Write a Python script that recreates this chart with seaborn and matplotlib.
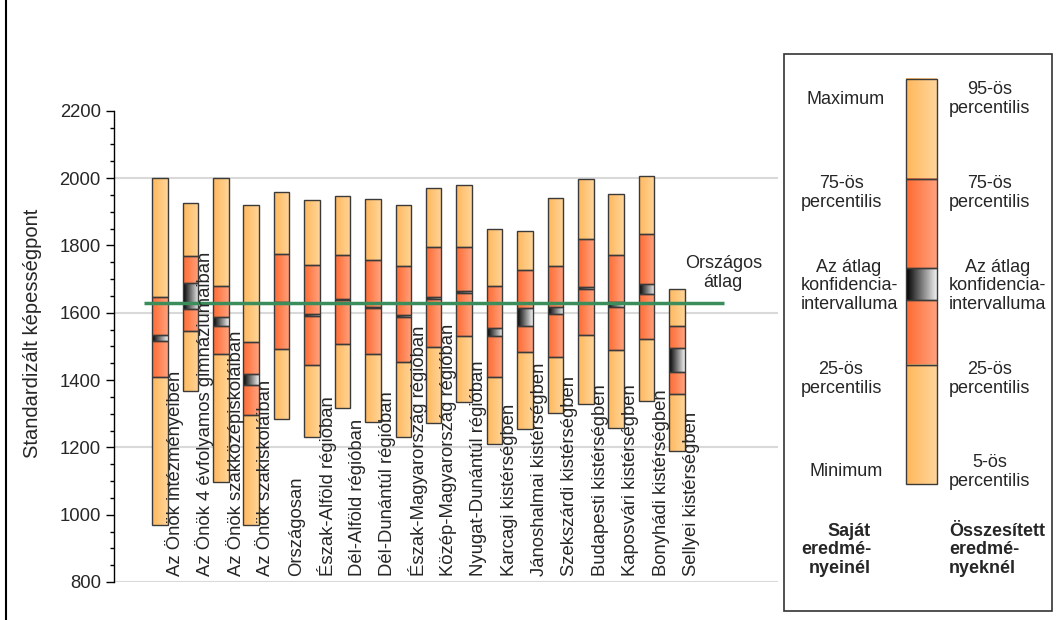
import numpy as np
import pandas as pd
import seaborn as sns
import matplotlib.pyplot as plt
from matplotlib.colors import LinearSegmentedColormap
from matplotlib.patches import Rectangle

# Chart values
categories = [
    "Az Önök intézményeiben", "Az Önök 4 évfolyamos gimnáziumaiban",
    "Az Önök szakközépiskoláiban", "Az Önök szakiskoláiban", "Országosan",
    "Észak-Alföld régióban", "Dél-Alföld régióban", "Dél-Dunántúl régióban",
    "Észak-Magyarország régióban", "Közép-Magyarország régióban",
    "Nyugat-Dunántúl régióban", "Karcagi kistérségben",
    "Jánoshalmai kistérségben", "Szekszárdi kistérségben",
    "Budapesti kistérségben", "Kaposvári kistérségben",
    "Bonyhádi kistérségben", "Sellyei kistérségben",
]
minimum = [970, 1368, 1098, 970, 1284, 1231, 1316, 1275, 1231, 1271, 1336, 1211, 1255, 1302, 1328, 1259, 1338, 1188]
p25 = [1409, 1546, 1478, 1297, 1493, 1445, 1506, 1478, 1453, 1498, 1531, 1409, 1483, 1469, 1535, 1490, 1523, 1358]
ci_low = [1517, 1611, 1562, 1384, 1628, 1591, 1637, 1613, 1588, 1641, 1659, 1530, 1562, 1595, 1671, 1617, 1657, 1424]
ci_high = [1533, 1688, 1587, 1419, 1632, 1595, 1641, 1617, 1593, 1647, 1665, 1556, 1613, 1617, 1676, 1633, 1686, 1495]
p75 = [1647, 1770, 1680, 1514, 1776, 1742, 1772, 1758, 1740, 1795, 1795, 1680, 1726, 1740, 1819, 1772, 1835, 1562]
maximum = [2000, 1926, 2000, 1920, 1960, 1936, 1948, 1938, 1921, 1972, 1981, 1849, 1844, 1942, 1997, 1952, 2007, 1671]
national_mean = 1630

# gradient colours (left -> right) for each kind of segment
grad_colors = {
    "light": ("#FFB85C", "#FFD59A"),
    "dark": ("#FF6B32", "#FFA27E"),
    "ci": ("#000000", "#F0F0F0"),
}

sns.set_theme(style="white")
plt.rcParams["font.family"] = ["Liberation Sans", "DejaVu Sans"]

fig = plt.figure(figsize=(10.63, 6.2), dpi=100)
ax = fig.add_axes([0.1072, 0.0613, 0.625, 0.760])

# segments stacked from bottom to top
segments = [
    ("light", minimum, p25),
    ("dark", p25, ci_low),
    ("ci", ci_low, ci_high),
    ("dark", ci_high, p75),
    ("light", p75, maximum),
]

grad = np.linspace(0, 1, 64).reshape(1, -1)
for kind, lo, hi in segments:
    df = pd.DataFrame({"cat": categories, "bottom": lo,
                       "height": np.array(hi) - np.array(lo)})
    n_before = len(ax.patches)
    sns.barplot(data=df, x="cat", y="height", bottom=df["bottom"].values,
                order=categories, errorbar=None, fill=False, color="#3a3a3a",
                linewidth=1.0, width=0.51, ax=ax, zorder=3)
    cmap = LinearSegmentedColormap.from_list(kind, grad_colors[kind])
    for p in ax.patches[n_before:]:
        x0, y0 = p.get_x(), p.get_y()
        im = ax.imshow(grad, cmap=cmap, aspect="auto", interpolation="bilinear",
                       extent=[x0, x0 + p.get_width(), y0, y0 + p.get_height()],
                       zorder=2)
        im.set_clip_path(p)

# grid lines
for g in [800, 1200, 1600, 2000]:
    ax.axhline(g, color="#d9d9d9", lw=1.5, zorder=0)

# national average
ax.hlines(national_mean, -0.53, 18.55, color="#3b8d5c", lw=2.5, zorder=4)
ax.text(18.52, 1717, "Országos\nátlag", ha="center", va="center",
        fontsize=13, linespacing=1.15)

# category labels
for i, cat in enumerate(categories):
    ax.text(i + 0.48, 817, cat, rotation=90, ha="center", va="bottom",
            fontsize=13.3, zorder=5)

ax.set_xlim(-1.513, 20.33)
ax.set_ylim(800, 2200)
ax.set_xticks([])
ax.set_xlabel("")
ax.set_yticks(np.arange(800, 2201, 200))
ax.set_yticks(np.arange(800, 2201, 50), minor=True)
ax.tick_params(axis="y", which="major", length=6, width=1, color="black",
               labelsize=13.3, left=True, direction="out")
ax.tick_params(axis="y", which="minor", length=3, width=1, color="black",
               left=True, direction="out")
for s in ["top", "right", "bottom"]:
    ax.spines[s].set_visible(False)
ax.spines["left"].set_color("black")
ax.spines["left"].set_linewidth(1)
ax.set_ylabel("Standardizált képességpont", fontsize=14.5)
ax.yaxis.set_label_coords(-0.108, 0.528)
ax.patch.set_alpha(0)

# legend panel drawn in pixel coordinates
lg = fig.add_axes([0, 0, 1, 1])
lg.set_axis_off()
lg.patch.set_alpha(0)
lg.plot([6, 6], [0, 620], color="black", lw=1.5)
lg.add_patch(Rectangle((784, 54), 268, 557, fill=False, ec="#333333", lw=1.2))

legend_bar = [("light", 78.5, 178.8), ("dark", 178.8, 268.3), ("ci", 268.3, 300.1),
              ("dark", 300.1, 364.9), ("light", 364.9, 484)]
for kind, top, bot in legend_bar:
    cmap = LinearSegmentedColormap.from_list(kind, grad_colors[kind])
    lg.imshow(grad, cmap=cmap, aspect="auto", interpolation="bilinear",
              extent=[906, 937, bot, top], zorder=2)
    lg.add_patch(Rectangle((906, top), 31, bot - top, fill=False,
                           ec="#3a3a3a", lw=1.0, zorder=3))

left_texts = [("Maximum", 846, 99), ("75-ös\npercentilis", 841, 193),
              ("Az átlag\nkonfidencia-\nintervalluma", 849, 286),
              ("25-ös\npercentilis", 841, 379), ("Minimum", 846, 471)]
for t, x, y in left_texts:
    lg.text(x, y, t, ha="center", va="center", fontsize=13, linespacing=1.15)

right_texts = [("95-ös\npercentilis", 99), ("75-ös\npercentilis", 193),
               ("Az átlag\nkonfidencia-\nintervalluma", 286),
               ("25-ös\npercentilis", 379), ("5-ös\npercentilis", 472)]
for t, y in right_texts:
    lg.text(949, y, t, ha="left", va="center", multialignment="center",
            fontsize=13, linespacing=1.15)

lg.text(871, 550, "Saját\neredmé-\nnyeinél", ha="right", va="center",
        multialignment="right", fontsize=13, fontweight="bold", linespacing=1.15)
lg.text(949, 550, "Összesített\neredmé-\nnyeknél", ha="left", va="center",
        multialignment="left", fontsize=13, fontweight="bold", linespacing=1.15)

lg.set_xlim(0, 1063)
lg.set_ylim(620, 0)

fig.savefig("out.png", dpi=100)
